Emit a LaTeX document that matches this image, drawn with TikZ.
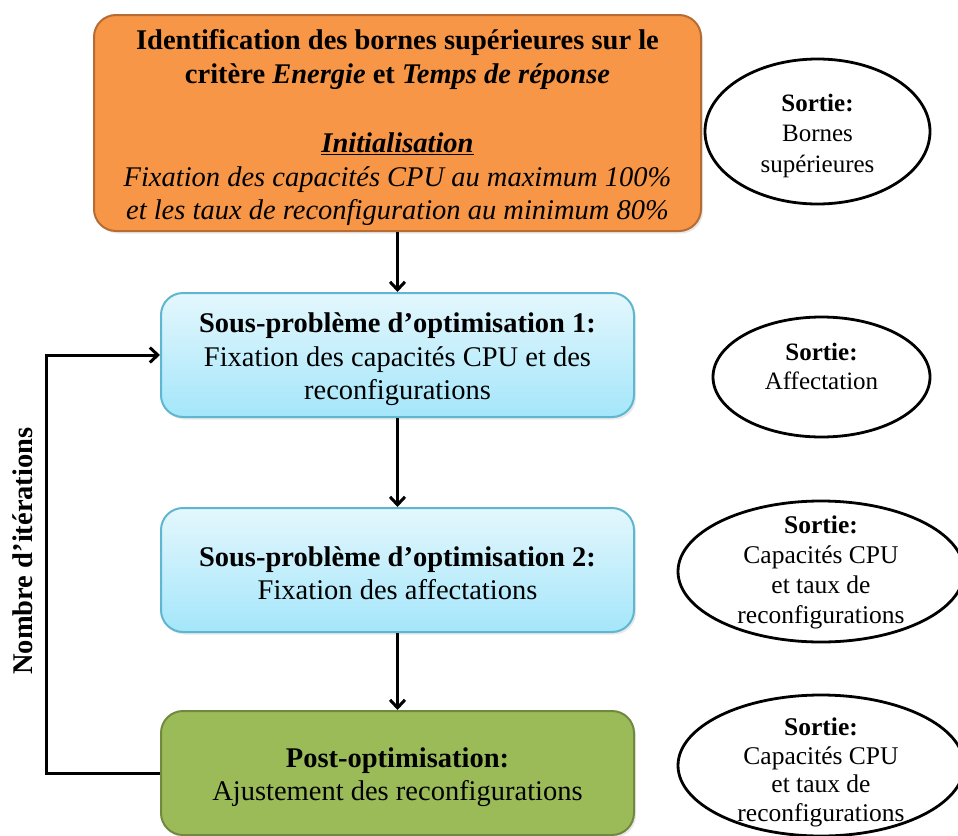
\documentclass[tikz,border=0pt]{standalone}
\usepackage{fontspec}
\setmainfont{Liberation Serif}
\usetikzlibrary{arrows.meta,shapes.geometric,shadows}
\definecolor{orfill}{RGB}{247,150,70}
\definecolor{ordraw}{RGB}{182,108,50}
\definecolor{bluetop}{RGB}{228,247,253}
\definecolor{bluebot}{RGB}{164,230,250}
\definecolor{bluedraw}{RGB}{95,182,208}
\definecolor{grfill}{RGB}{155,187,89}
\definecolor{grdraw}{RGB}{113,137,63}
\newcommand{\pushdown}[1]{\rule{0pt}{#1}}
\begin{document}
\begin{tikzpicture}[x=1pt,y=-1pt,
  box/.style={rectangle, rounded corners=22pt, line width=2pt, align=center, inner sep=0pt,
    font=\fontsize{28.5}{33.5}\selectfont,
    drop shadow={opacity=0.18, shadow xshift=2pt, shadow yshift=-2.5pt}},
  orbox/.style={box, fill=orfill, draw=ordraw, minimum width=607pt, minimum height=216pt},
  bluebox/.style={box, top color=bluetop, bottom color=bluebot, draw=bluedraw, minimum width=473pt, minimum height=124pt},
  grbox/.style={box, fill=grfill, draw=grdraw, minimum width=473pt, minimum height=124pt},
  outell/.style={ellipse, draw=black, line width=2.8pt, inner sep=0pt},
  elltext/.style={align=center, inner sep=0pt}
]
\tikzset{arr/.style={draw=black, line width=3pt, -{Straight Barb[length=8pt,width=15pt,line width=3pt]}}}
\useasboundingbox (0,0) rectangle (958,835);

\node[orbox] (init) at (397.5,123) {\pushdown{30pt}\textbf{Identification des bornes supérieures sur le}\\
  \textbf{critère \textit{Energie} et \textit{Temps de réponse}}\\[36pt]
  \textbf{\textit{\underline{Initialisation}}}\\
  \textit{Fixation des capacités CPU au maximum 100\%}\\
  \textit{et les taux de reconfiguration au minimum 80\%}};

\node[bluebox] (sp1) at (397.5,355) {\pushdown{29pt}\textbf{Sous-problème d’optimisation 1:}\\
  Fixation des capacités CPU et des\\ reconfigurations};
\node[bluebox] (sp2) at (397.5,570) {\pushdown{26pt}\textbf{Sous-problème d’optimisation 2:}\\
  Fixation des affectations};
\node[grbox] (post) at (397.5,773) {\pushdown{28pt}\textbf{Post-optimisation:}\\
  Ajustement des reconfigurations};

\node[outell, minimum width=225pt, minimum height=145pt,
  label={[elltext, font=\fontsize{25}{30.5}\selectfont, yshift=-4pt]center:{\textbf{Sortie:}\\ Bornes\\ supérieures}}]
  (e1) at (817.5,131.5) {};
\node[outell, minimum width=217pt, minimum height=120pt,
  label={[elltext, font=\fontsize{25}{29}\selectfont, yshift=11pt]center:{\textbf{Sortie:}\\ Affectation}}]
  (e2) at (821.5,377) {};
\node[outell, minimum width=286pt, minimum height=141pt,
  label={[elltext, font=\fontsize{25.5}{30}\selectfont, yshift=-1pt]center:{\textbf{Sortie:}\\ Capacités CPU\\ et taux de\\ reconfigurations}}]
  (e3) at (821,571.5) {};
\node[outell, minimum width=286pt, minimum height=141pt,
  label={[elltext, font=\fontsize{25.5}{28.5}\selectfont, yshift=-7pt]center:{\textbf{Sortie:}\\ Capacités CPU\\ et taux de\\ reconfigurations}}]
  (e4) at (821,765.5) {};

\draw[arr] (init) -- (sp1);
\draw[arr] (sp1) -- (sp2);
\draw[arr] (sp2) -- (post);

\coordinate (lp) at (46,774);
\draw[arr] (post.west) -- (post.west -| lp) |- (sp1.west);

\node[rotate=90, font=\fontsize{28.5}{33}\selectfont\bfseries] (nb) at (23,551) {Nombre d’itérations};
\end{tikzpicture}
\end{document}
